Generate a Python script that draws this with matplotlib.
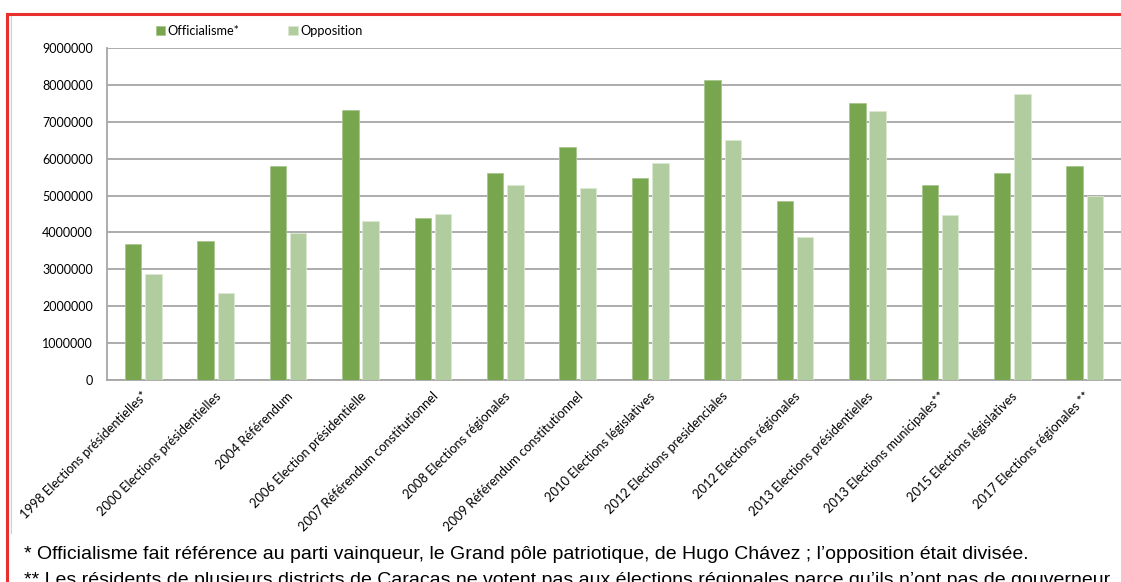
import matplotlib.pyplot as plt
import matplotlib.transforms as mtransforms
import numpy as np

categories = [
    "1998 Elections présidentielles*",
    "2000 Elections présidentielles",
    "2004 Référendum",
    "2006 Election présidentielle",
    "2007 Référendum constitutionnel",
    "2008 Elections régionales",
    "2009 Référendum constitutionnel",
    "2010 Elections législatives",
    "2012 Elections presidenciales",
    "2012 Elections régionales",
    "2013 Elections présidentielles",
    "2013 Elections municipales**",
    "2015 Elections législatives",
    "2017 Elections régionales **",
]
officialisme = [3695000, 3770000, 5810000, 7330000, 4400000, 5620000, 6320000,
                5470000, 8140000, 4840000, 7520000, 5290000, 5620000, 5810000]
opposition = [2870000, 2360000, 3990000, 4320000, 4510000, 5280000, 5210000,
              5880000, 6510000, 3875000, 7290000, 4470000, 7740000, 5000000]
yticks = np.arange(0, 9000001, 1000000)

footnote1 = ("* Officialisme fait référence au parti vainqueur, le Grand pôle patriotique, "
             "de Hugo Chávez ; l’opposition était divisée.")
footnote2 = ("** Les résidents de plusieurs districts de Caracas ne votent pas aux élections "
             "régionales parce qu’ils n’ont pas de gouverneur")

c_off = '#77a64f'
c_opp = '#b1cd9f'
grid_c = '#a6a6a6'

fig = plt.figure(figsize=(11.21, 5.82), dpi=100)
ax = fig.add_axes([107 / 1121, 1 - 380 / 582, 1 - 107 / 1121, (380 - 48) / 582])

x = np.arange(len(categories))
w = 0.225
ax.bar(x - 0.14, officialisme, w, color=c_off, edgecolor='#a9c78f', linewidth=0.6,
       label='Officialisme*', zorder=3)
ax.bar(x + 0.14, opposition, w, color=c_opp, edgecolor='#dbe8d2', linewidth=0.6,
       label='Opposition', zorder=3)

ax.set_xlim(-0.5, len(categories) - 0.5)
ax.set_ylim(0, 9000000)
ax.set_yticks(yticks)
ax.set_yticklabels([str(v) for v in yticks], fontname='Lato', fontsize=9)
ax.yaxis.grid(True, color=grid_c, linewidth=1.3, zorder=0)
ax.set_axisbelow(True)
ax.tick_params(axis='y', length=0, pad=10)
ax.tick_params(axis='x', length=0, pad=7)
ax.set_xticks(x)
ax.set_xticklabels(categories, rotation=45, ha='right', rotation_mode='anchor',
                   fontname='Lato', fontsize=9.3)
shift = mtransforms.ScaledTranslation(-1 / 100, 0, fig.dpi_scale_trans)
for lab in ax.get_xticklabels():
    lab.set_transform(lab.get_transform() + shift)

for s in ['top', 'right']:
    ax.spines[s].set_visible(False)
for s in ['left', 'bottom']:
    ax.spines[s].set_color(grid_c)
    ax.spines[s].set_linewidth(1.3)

fig.legend(loc='center left', bbox_to_anchor=(144 / 1121, 1 - 31 / 582), ncol=2,
           frameon=False, prop={'family': 'Lato', 'size': 9.2},
           handlelength=0.75, handleheight=0.75, handletextpad=0.2, columnspacing=3.8)

fig.text(24 / 1121, 1 - 559 / 582, footnote1, fontname='Liberation Sans', fontsize=14,
         va='baseline')
fig.text(24 / 1121, 1 - 585 / 582, footnote2, fontname='Liberation Sans', fontsize=14,
         va='baseline')

# red frame and thin grey chart border
fig.add_artist(plt.Line2D([7 / 1121, 1], [1 - 14 / 582] * 2, color='#e8302e', linewidth=2.2))
fig.add_artist(plt.Line2D([7 / 1121] * 2, [0, 1 - 14 / 582], color='#e8302e', linewidth=2.2))
fig.add_artist(plt.Line2D([10.5 / 1121] * 2, [1 - 533 / 582, 1 - 16 / 582], color='#d0d0d0',
                          linewidth=0.8))

fig.savefig('out.png', dpi=100)
